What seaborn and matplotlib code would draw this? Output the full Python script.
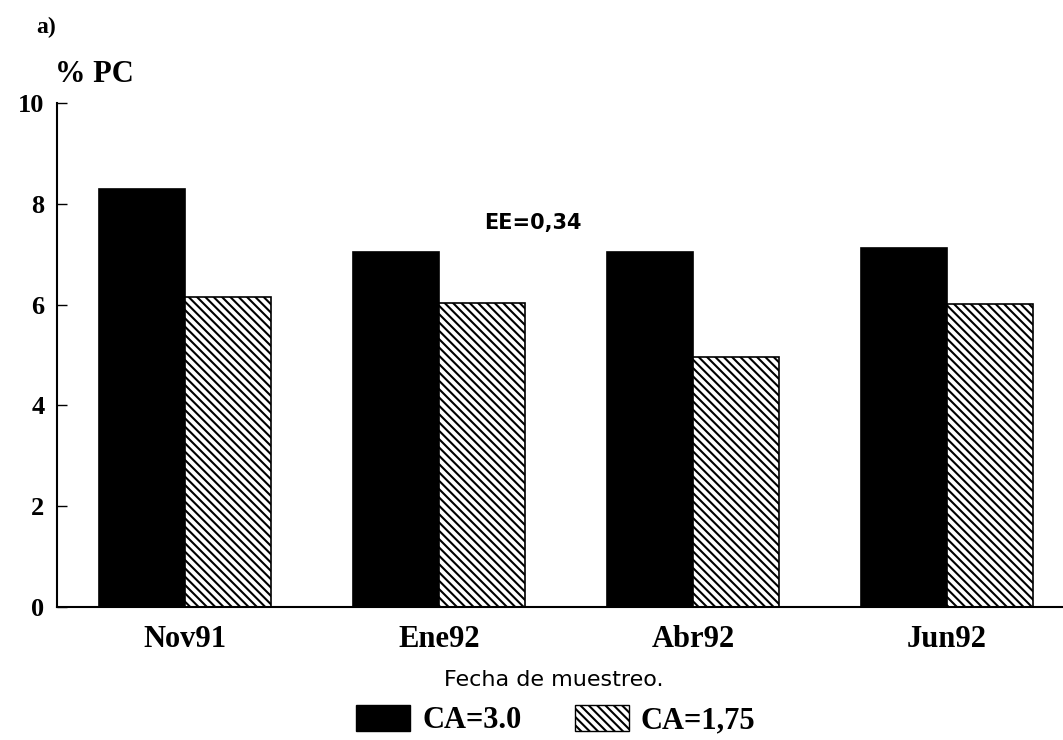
import numpy as np
import pandas as pd
import seaborn as sns
import matplotlib
matplotlib.use("Agg")
import matplotlib.pyplot as plt
import matplotlib.patches as mpatches

# ---- data ----
fechas = ["Nov91", "Ene92", "Abr92", "Jun92"]
ca_labels = ["CA=3.0", "CA=1,75"]
pc_ca30 = [8.30, 7.05, 7.05, 7.12]
pc_ca175 = [6.15, 6.03, 4.96, 6.01]
y_ticks = [0, 2, 4, 6, 8, 10]
ee_text = "EE=0,34"

sns.set_theme(style="white")
plt.rcParams["hatch.linewidth"] = 1.5
plt.rcParams["hatch.color"] = "black"
plt.rcParams["text.color"] = "black"

df = pd.DataFrame({
    "fecha": fechas * 2,
    "pc": pc_ca30 + pc_ca175,
    "ca": [ca_labels[0]] * len(fechas) + [ca_labels[1]] * len(fechas),
})

serif = dict(family="Liberation Serif", weight="bold")
HATCH = "\\\\\\\\"

fig = plt.figure(figsize=(10.63, 7.40), dpi=100)
ax = fig.add_axes([0.0536, 0.1797, 0.9464, 0.6811])

sns.barplot(data=df, x="fecha", y="pc", hue="ca", order=fechas,
            hue_order=ca_labels, palette=["black", "white"], width=0.678,
            edgecolor="black", linewidth=1.2, saturation=1,
            errorbar=None, legend=False, ax=ax)
for bar in ax.containers[1]:
    bar.set_hatch(HATCH)

ax.set_xlim(-0.504, 3.457)
ax.set_ylim(0, 10)
ax.set_yticks(y_ticks)
ax.set_yticklabels([str(v) for v in y_ticks])
ax.set_xlabel("")
ax.set_ylabel("")

for s in ["top", "right"]:
    ax.spines[s].set_visible(False)
for s in ["left", "bottom"]:
    ax.spines[s].set_color("black")
    ax.spines[s].set_linewidth(1.5)

ax.tick_params(axis="y", direction="in", length=7, width=1, color="black",
               pad=9, left=True, labelsize=19, labelcolor="black")
ax.tick_params(axis="x", length=0, pad=13, labelsize=22, labelcolor="black")
for lab in ax.get_yticklabels() + ax.get_xticklabels():
    lab.set_fontfamily("Liberation Serif")
    lab.set_fontweight("bold")

# annotation inside the plot
ax.text(1.37, 7.62, ee_text, ha="center", va="center", fontsize=15,
        fontweight="bold", family="DejaVu Sans", color="black")

# figure texts
fig.text(46 / 1063, 1 - 27 / 740, "a)", ha="center", va="center",
         fontsize=17, color="black", **serif)
fig.text(55 / 1063, 1 - 75 / 740, "% PC", ha="left", va="center",
         fontsize=22, color="black", **serif)
fig.text(554 / 1063, 1 - 680 / 740, "Fecha de muestreo.", ha="center",
         va="center", fontsize=16, family="DejaVu Sans", color="black")

handles = [
    mpatches.Patch(facecolor="black", edgecolor="black", label=ca_labels[0]),
    mpatches.Patch(facecolor="white", edgecolor="black", hatch=HATCH,
                   label=ca_labels[1]),
]
fig.legend(handles=handles, loc="center",
           bbox_to_anchor=(556 / 1063, 1 - 720 / 740), ncol=2,
           frameon=False, handlelength=1.76, handleheight=0.92,
           handletextpad=0.39, columnspacing=1.76, borderpad=0,
           labelcolor="black",
           prop=dict(family="Liberation Serif", weight="bold", size=22))

fig.savefig("out.png", dpi=100)
